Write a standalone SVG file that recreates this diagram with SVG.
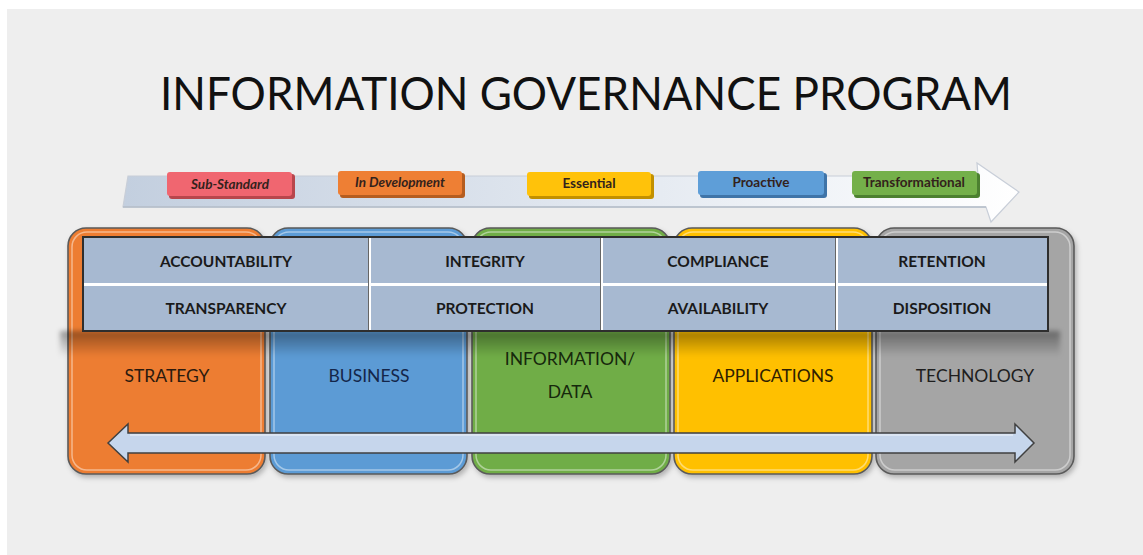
<svg xmlns="http://www.w3.org/2000/svg" width="1143" height="555" viewBox="0 0 1143 555">
  <style>
    .title { font-family: Lato, "Open Sans", "Liberation Sans", sans-serif; font-size: 46px; fill: #111; }
    .pill-t { font-family: Lato, "Open Sans", "Liberation Sans", sans-serif; font-size: 13.5px; font-weight: bold; fill: #33221c; text-anchor: middle; }
    .cell { fill: #a7b9d1; }
    .cell-t { font-family: Lato, "Open Sans", "Liberation Sans", sans-serif; font-size: 15.5px; font-weight: bold; fill: #1a1a1a; text-anchor: middle; }
    .col-t { font-family: Lato, "Open Sans", "Liberation Sans", sans-serif; font-size: 17.5px; text-anchor: middle; }
    .col { stroke: #5a5a5a; stroke-width: 1.6; }
    .col-hi { fill: none; stroke: #ffffff; stroke-opacity: 0.45; stroke-width: 1.5; }
  </style>
  <defs>
    <linearGradient id="bandGrad" x1="0" y1="0" x2="1" y2="0">
      <stop offset="0" stop-color="#c3cfdf"/>
      <stop offset="0.6" stop-color="#e6ebf2"/>
      <stop offset="1" stop-color="#ffffff"/>
    </linearGradient>
    <linearGradient id="shadowGrad" x1="0" y1="0" x2="0" y2="1">
      <stop offset="0" stop-color="#000" stop-opacity="0.38"/>
      <stop offset="1" stop-color="#000" stop-opacity="0"/>
    </linearGradient>
    <filter id="soft" x="-5%" y="-50%" width="110%" height="200%">
      <feGaussianBlur stdDeviation="2.5"/>
    </filter>
    <filter id="dropShadow" x="-10%" y="-10%" width="120%" height="120%">
      <feDropShadow dx="2" dy="3" stdDeviation="2.5" flood-color="#000" flood-opacity="0.25"/>
    </filter>
  </defs>

  <!-- backdrop -->
  <rect x="0" y="0" width="1143" height="555" fill="#ffffff"/>
  <rect x="7" y="9" width="1136" height="546" fill="#eeeeee"/>

  <!-- heading -->
  <text class="title" x="160" y="110" textLength="852" lengthAdjust="spacingAndGlyphs">INFORMATION GOVERNANCE PROGRAM</text>

  <!-- maturity arrow -->
  <g id="maturity-arrow">
    <polygon points="128,176 978,176 977,163 1019,192 991,222 986,207 123,207" fill="url(#bandGrad)" stroke="#c8ced8" stroke-width="1.2"/>
    <line x1="123" y1="207" x2="986" y2="207" stroke="#b3bcc9" stroke-width="1.5"/>
  </g>

  <g id="level-sub-standard">
    <rect x="169" y="174" width="126" height="25" rx="3" fill="#b8464c"/>
    <rect x="167" y="172" width="125" height="24" rx="3" fill="#f06670"/>
    <text class="pill-t" x="230" y="189" font-style="italic">Sub-Standard</text>
  </g>
  <g id="level-in-development">
    <rect x="340" y="173" width="125" height="25" rx="3" fill="#b55d20"/>
    <rect x="338" y="171" width="124" height="24" rx="3" fill="#ee7f34"/>
    <text class="pill-t" x="400" y="187" font-style="italic">In Development</text>
  </g>
  <g id="level-essential">
    <rect x="529" y="174" width="125" height="25" rx="3" fill="#c29000"/>
    <rect x="527" y="172" width="124" height="24" rx="3" fill="#ffc20a"/>
    <text class="pill-t" x="589" y="188">Essential</text>
  </g>
  <g id="level-proactive">
    <rect x="700" y="173" width="127" height="25" rx="3" fill="#3f74a8"/>
    <rect x="698" y="171" width="126" height="24" rx="3" fill="#5e9ed8"/>
    <text class="pill-t" x="761" y="187" fill="#1f2f4a">Proactive</text>
  </g>
  <g id="level-transformational">
    <rect x="854" y="173" width="126" height="25" rx="3" fill="#4c8030"/>
    <rect x="852" y="171" width="125" height="24" rx="3" fill="#74b04a"/>
    <text class="pill-t" x="914" y="187" fill="#1e3012">Transformational</text>
  </g>

  <!-- architecture columns -->
  <g id="col-strategy" filter="url(#dropShadow)">
    <rect class="col" x="68" y="228" width="197" height="246" rx="18" fill="#ed7d31"/>
    <rect class="col-hi" x="72" y="232" width="189" height="238" rx="15"/>
  </g>
  <g id="col-business" filter="url(#dropShadow)">
    <rect class="col" x="270" y="228" width="197" height="246" rx="18" fill="#5b9bd5"/>
    <rect class="col-hi" x="274" y="232" width="189" height="238" rx="15"/>
  </g>
  <g id="col-information" filter="url(#dropShadow)">
    <rect class="col" x="472" y="228" width="198" height="246" rx="18" fill="#70ad47"/>
    <rect class="col-hi" x="476" y="232" width="190" height="238" rx="15"/>
  </g>
  <g id="col-applications" filter="url(#dropShadow)">
    <rect class="col" x="674" y="228" width="198" height="246" rx="18" fill="#ffc000"/>
    <rect class="col-hi" x="678" y="232" width="190" height="238" rx="15"/>
  </g>
  <g id="col-technology" filter="url(#dropShadow)">
    <rect class="col" x="876" y="228" width="198" height="246" rx="18" fill="#a5a5a5"/>
    <rect class="col-hi" x="880" y="232" width="190" height="238" rx="15"/>
  </g>

  <!-- shadow cast by the principles table -->
  <rect x="60" y="331" width="1000" height="26" fill="url(#shadowGrad)" filter="url(#soft)"/>

  <!-- column labels -->
  <text class="col-t" x="167" y="382" fill="#2b1a0e">STRATEGY</text>
  <text class="col-t" x="369" y="382" fill="#14264a">BUSINESS</text>
  <text class="col-t" x="570" y="365" fill="#16280c">INFORMATION/</text>
  <text class="col-t" x="570" y="398" fill="#16280c">DATA</text>
  <text class="col-t" x="773" y="382" fill="#2e2000">APPLICATIONS</text>
  <text class="col-t" x="975" y="382" fill="#1e1e1e">TECHNOLOGY</text>

  <!-- principles table -->
  <g id="principles">
    <rect x="83" y="237" width="965" height="94" fill="#ffffff" stroke="#2e2e2e" stroke-width="2"/>
    <rect class="cell" x="84" y="238" width="284" height="45"/>
    <rect class="cell" x="371" y="238" width="229" height="45"/>
    <rect class="cell" x="603" y="238" width="232" height="45"/>
    <rect class="cell" x="838" y="238" width="209" height="45"/>
    <rect class="cell" x="84" y="286" width="284" height="44"/>
    <rect class="cell" x="371" y="286" width="229" height="44"/>
    <rect class="cell" x="603" y="286" width="232" height="44"/>
    <rect class="cell" x="838" y="286" width="209" height="44"/>
    <line x1="368.5" y1="238" x2="368.5" y2="330" stroke="#666" stroke-width="1"/>
    <line x1="600.5" y1="238" x2="600.5" y2="330" stroke="#666" stroke-width="1"/>
    <line x1="835.5" y1="238" x2="835.5" y2="330" stroke="#666" stroke-width="1"/>
    <text class="cell-t" x="226" y="267">ACCOUNTABILITY</text>
    <text class="cell-t" x="485" y="267">INTEGRITY</text>
    <text class="cell-t" x="718" y="267">COMPLIANCE</text>
    <text class="cell-t" x="942" y="267">RETENTION</text>
    <text class="cell-t" x="226" y="314">TRANSPARENCY</text>
    <text class="cell-t" x="485" y="314">PROTECTION</text>
    <text class="cell-t" x="718" y="314">AVAILABILITY</text>
    <text class="cell-t" x="942" y="314">DISPOSITION</text>
  </g>

  <!-- two-way integration arrow -->
  <g id="connectors">
    <polygon points="108,443 128,424 128,433 1015,433 1015,424 1034,443 1015,462 1015,453 128,453 128,462" fill="#c6d6ec" stroke="#404040" stroke-width="1.5" stroke-linejoin="miter"/>
    <line x1="130" y1="435" x2="1013" y2="435" stroke="#ffffff" stroke-opacity="0.5" stroke-width="1.5"/>
  </g>
</svg>
